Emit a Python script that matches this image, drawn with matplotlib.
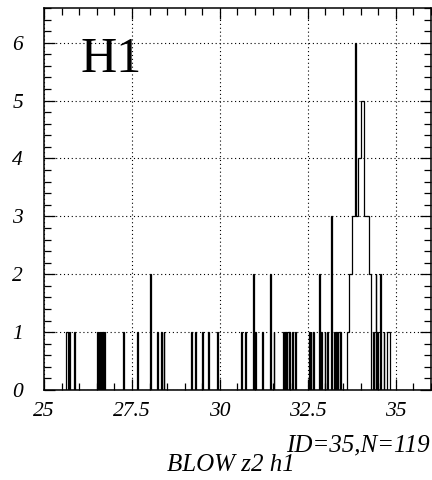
import numpy as np
import matplotlib
matplotlib.use('Agg')
import matplotlib.pyplot as plt
from matplotlib.ticker import MultipleLocator, FuncFormatter

# histogram contents (bin position, entries)
bin_x = [25.625, 25.668, 25.724, 25.872,
         26.520, 26.563, 26.605, 26.662, 26.705,
         27.253, 27.662, 28.040, 28.247, 28.344, 28.409,
         29.176, 29.310, 29.509, 29.688, 29.935,
         30.616, 30.739, 30.952, 31.023, 31.213, 31.449, 31.543,
         31.818, 31.861, 31.903, 31.946, 31.989, 32.074, 32.131,
         32.543, 32.599, 32.670, 32.827, 32.898, 32.983, 33.068, 33.153,
         33.267, 33.310, 33.352, 33.395, 33.438,
         # peak
         33.6375, 33.6625, 33.6875, 33.7125, 33.7375, 33.7625, 33.7875,
         33.8125, 33.8375, 33.8625, 33.8875, 33.9125, 33.9375, 33.9625,
         33.9875, 34.0125, 34.0375, 34.0625, 34.0875, 34.1125, 34.1375,
         34.1625, 34.1875, 34.2125, 34.2375, 34.2625, 34.2875,
         # right of peak
         34.361, 34.432, 34.489, 34.574, 34.659, 34.765, 34.79, 34.815]
bin_n = [1, 1, 1, 1,
         1, 1, 1, 1, 1,
         1, 1, 2, 1, 1, 1,
         1, 1, 1, 1, 1,
         1, 1, 2, 1, 1, 2, 1,
         1, 1, 1, 1, 1, 1, 1,
         1, 1, 1, 2, 1, 1, 1, 3,
         1, 1, 1, 1, 1,
         1, 1, 2, 2, 2, 3, 3,
         3, 3, 6, 3, 3, 4, 4,
         4, 5, 5, 5, 5, 3, 3,
         3, 3, 3, 2, 2, 2,
         1, 2, 1, 2, 1, 1, 1, 1]

x_ticks = [25, 27.5, 30, 32.5, 35]
y_ticks = [0, 1, 2, 3, 4, 5, 6]

plt.rcParams['font.family'] = ['Liberation Serif', 'DejaVu Serif']

fig = plt.figure(figsize=(4.32, 4.8), dpi=100)
ax = fig.add_axes([44 / 432, 90 / 480, 387 / 432, 382 / 480])

edges = 25 + 0.025 * np.arange(441)
counts, _ = np.histogram(bin_x, bins=edges, weights=bin_n)
ax.stairs(counts, edges, color='black', linewidth=0.9)

ax.set_xlim(25, 36)
ax.set_ylim(0, 6.6)
ax.set_xticks(x_ticks)
ax.set_yticks(y_ticks)
ax.xaxis.set_minor_locator(MultipleLocator(0.5))
ax.yaxis.set_minor_locator(MultipleLocator(0.2))
fmt = FuncFormatter(lambda v, p: '%g' % v)
ax.xaxis.set_major_formatter(fmt)
ax.yaxis.set_major_formatter(fmt)

ax.tick_params(which='both', direction='in', top=True, right=True,
               width=0.9, colors='black')
ax.tick_params(which='major', length=8)
ax.tick_params(which='minor', length=5)
ax.tick_params(axis='x', which='major', pad=9, labelsize=15.5)
ax.tick_params(axis='y', which='major', pad=15, labelsize=15.5)
for lab in ax.get_xticklabels() + ax.get_yticklabels():
    lab.set_fontstyle('italic')
for s in ax.spines.values():
    s.set_linewidth(1.1)

ax.grid(True, which='major', color='black', linestyle=(0, (1, 2.5)), linewidth=0.8)

fig.text(80 / 432, 1 - 72 / 480, 'H1', fontsize=36, ha='left', va='baseline')
fig.text(430 / 432, 1 - 451 / 480, 'ID=35,N=119', fontsize=18,
         style='italic', ha='right', va='baseline')
fig.text(231 / 432, 1 - 471 / 480, 'BLOW z2 h1', fontsize=18,
         style='italic', ha='center', va='baseline')

fig.savefig('out.png', dpi=100)
